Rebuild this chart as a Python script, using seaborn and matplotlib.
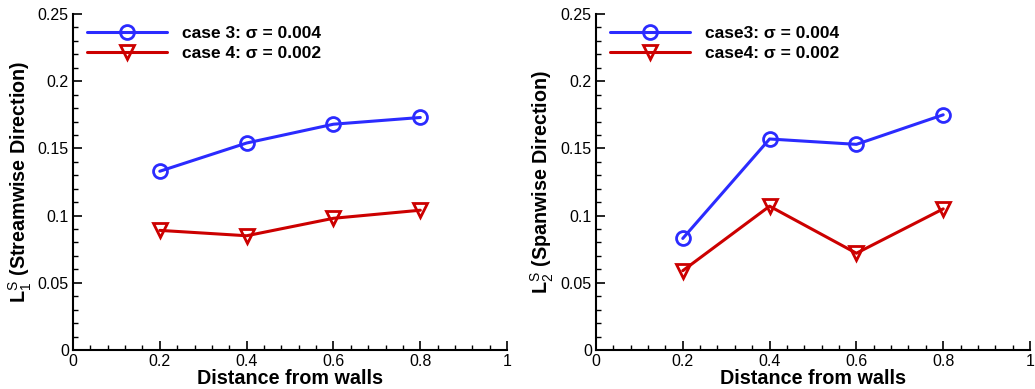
import matplotlib
matplotlib.use("Agg")
import matplotlib.pyplot as plt
from matplotlib.ticker import MultipleLocator, FuncFormatter
import numpy as np
import pandas as pd
import seaborn as sns

# Wall distances and measured length scales
distance = [0.2, 0.4, 0.6, 0.8]

stream_case3 = [0.133, 0.154, 0.168, 0.173]
stream_case4 = [0.089, 0.085, 0.098, 0.104]

span_case3 = [0.083, 0.157, 0.153, 0.175]
span_case4 = [0.059, 0.107, 0.072, 0.105]

left_labels = ["case 3: σ = 0.004", "case 4: σ = 0.002"]
right_labels = ["case3: σ = 0.004", "case4: σ = 0.002"]

sns.set_theme(style="white")
plt.rcParams["font.family"] = ["Liberation Sans", "DejaVu Sans"]
plt.rcParams["mathtext.fontset"] = "custom"
plt.rcParams["mathtext.rm"] = "Liberation Sans"
plt.rcParams["mathtext.it"] = "Liberation Sans"
plt.rcParams["text.color"] = "black"
plt.rcParams["axes.labelcolor"] = "black"
plt.rcParams["xtick.color"] = "black"
plt.rcParams["ytick.color"] = "black"

BLUE = "#2b2bff"
RED = "#cc0000"

fig = plt.figure(figsize=(10.35, 3.89), dpi=100)
ax1 = fig.add_axes([0.0705, 0.1003, 0.4195, 0.8637])
ax2 = fig.add_axes([0.5758, 0.1003, 0.4194, 0.8637])


def draw(ax, y3, y4, labels, ylabel):
    df = pd.DataFrame({
        "x": distance * 2,
        "y": list(y3) + list(y4),
        "case": [labels[0]] * len(distance) + [labels[1]] * len(distance),
    })
    for lab, col, mk in [(labels[0], BLUE, "o"), (labels[1], RED, "v")]:
        sub = df[df["case"] == lab]
        sns.lineplot(data=sub, x="x", y="y", ax=ax, color=col, marker=mk,
                     markersize=10, markerfacecolor="none", markeredgecolor=col,
                     markeredgewidth=2, linewidth=2.2, label=lab)
    ax.set_xlim(0, 1)
    ax.set_ylim(0, 0.25)
    ax.xaxis.set_major_locator(MultipleLocator(0.2))
    ax.xaxis.set_minor_locator(MultipleLocator(0.04))
    ax.yaxis.set_major_locator(MultipleLocator(0.05))
    ax.yaxis.set_minor_locator(MultipleLocator(0.01))
    fmt = FuncFormatter(lambda v, p: "%g" % round(v, 3))
    ax.xaxis.set_major_formatter(fmt)
    ax.yaxis.set_major_formatter(fmt)
    ax.tick_params(which="major", direction="in", length=6.5, width=1.2,
                   labelsize=11.5, pad=3, colors="black",
                   top=False, right=False, left=True, bottom=True)
    ax.tick_params(which="minor", direction="in", length=3.5, width=1,
                   top=False, right=False, left=True, bottom=True)
    for s in ["top", "right"]:
        ax.spines[s].set_visible(False)
    for s in ["left", "bottom"]:
        ax.spines[s].set_color("black")
        ax.spines[s].set_linewidth(1.5)
    ax.set_xlabel("Distance from walls", fontsize=14.2, fontweight="bold", labelpad=0)
    ax.set_ylabel(ylabel, fontsize=14.2, fontweight="bold", labelpad=3)
    ax.legend(loc="upper left", bbox_to_anchor=(0.005, 1.0), frameon=False,
              handlelength=4.6, handletextpad=0.85, borderaxespad=0.3,
              labelspacing=0.25, prop={"weight": "bold", "size": 12.5})


draw(ax1, stream_case3, stream_case4, left_labels,
     r"L$_1^{\mathrm{S}}$ (Streamwise Direction)")
draw(ax2, span_case3, span_case4, right_labels,
     r"L$_2^{\mathrm{S}}$ (Spanwise Direction)")

fig.savefig("out.png", dpi=100)
